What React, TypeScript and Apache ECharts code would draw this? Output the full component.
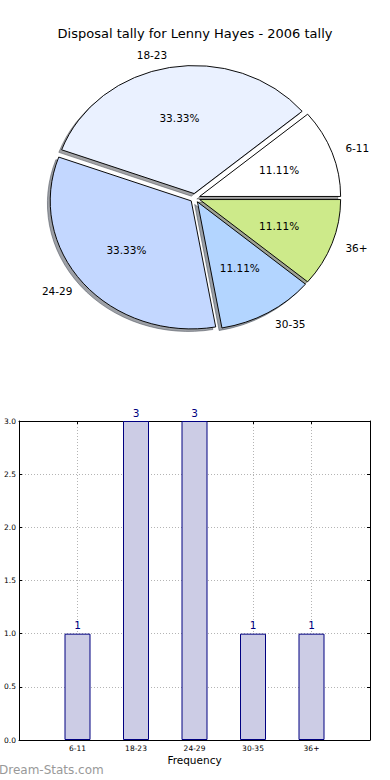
import React, { useEffect, useRef } from 'react';
import * as echarts from 'echarts';

const categories = ['6-11', '18-23', '24-29', '30-35', '36+'];
const tally = [1, 3, 3, 1, 1];
const pieColors = ['#ffffff', '#eaf1ff', '#c3d7ff', '#b3d5ff', '#cdea8a'];

const FONT = 'DejaVu Sans';
const CX = 195;
const CY = 198;
const RX = 141;
const RY = 128;
const EXPLODE = 0.035;

function sliceAngles(i: number) {
  const total = tally.reduce((a, b) => a + b, 0);
  let before = 0;
  for (let k = 0; k < i; k++) before += tally[k];
  const start = (before / total) * 2 * Math.PI;
  const end = ((before + tally[i]) / total) * 2 * Math.PI;
  return { start, end, mid: (start + end) / 2, frac: tally[i] / total };
}

function shadowColor(hex: string) {
  const r = parseInt(hex.slice(1, 3), 16) * 0.3;
  const g = parseInt(hex.slice(3, 5), 16) * 0.3;
  const b = parseInt(hex.slice(5, 7), 16) * 0.3;
  return `rgba(${Math.round(r)},${Math.round(g)},${Math.round(b)},0.5)`;
}

export default function App() {
  const ref = useRef<HTMLDivElement>(null);
  useEffect(() => {
    document.body.style.margin = '0';
    const chart = echarts.init(ref.current!, undefined, { renderer: 'svg' });
    const axisLine = { show: true, onZero: false, lineStyle: { color: '#000', width: 1 } };
    const tick = { show: true, inside: true, length: 3, lineStyle: { color: '#000', width: 1 } };
    const split = { show: true, lineStyle: { type: [1, 2], color: '#b4b4b4', width: 1 } };
    const option: any = {
      animation: false,
      backgroundColor: '#fff',
      title: {
        text: 'Disposal tally for Lenny Hayes - 2006 tally',
        left: 'center',
        top: 22,
        textStyle: { fontFamily: FONT, fontSize: 13, fontWeight: 'normal', color: '#000' },
      },
      grid: { left: 19, right: 20, top: 421, bottom: 40 },
      xAxis: [
        {
          type: 'value', min: 0, max: 6, interval: 1, position: 'bottom',
          axisLine, axisTick: tick,
          axisLabel: {
            formatter: (v: number) => categories[v - 1] ?? '',
            fontSize: 7.5, color: '#000', margin: 4, fontFamily: FONT,
          },
          splitLine: split,
          name: 'Frequency', nameLocation: 'middle', nameGap: 14,
          nameTextStyle: { fontFamily: FONT, fontSize: 10.5, color: '#000' },
        },
        {
          type: 'value', min: 0, max: 6, interval: 1, position: 'top',
          axisLine, axisTick: tick, axisLabel: { show: false }, splitLine: { show: false },
        },
      ],
      yAxis: [
        {
          type: 'value', min: 0, max: 3, interval: 0.5, position: 'left',
          axisLine, axisTick: tick,
          axisLabel: { formatter: (v: number) => v.toFixed(1), fontSize: 7.5, color: '#000', margin: 3, fontFamily: FONT },
          splitLine: split,
        },
        {
          type: 'value', min: 0, max: 3, interval: 0.5, position: 'right',
          axisLine, axisTick: tick, axisLabel: { show: false }, splitLine: { show: false },
        },
      ],
      graphic: [
        {
          type: 'text', left: -1, top: 764,
          style: { text: 'Dream-Stats.com', fill: '#999', font: `12px ${FONT}` },
        },
      ],
      series: [
        {
          type: 'bar', xAxisIndex: 0, yAxisIndex: 0,
          data: categories.map((c, i) => [i + 1, tally[i]]),
          barWidth: 26,
          itemStyle: { color: '#ccccE5', borderColor: '#000080', borderWidth: 1 },
          label: {
            show: true, position: 'top', distance: 3, color: '#000080',
            fontSize: 10.5, fontFamily: FONT, formatter: (p: any) => String(p.value[1]),
          },
        },
        {
          type: 'custom', coordinateSystem: 'none', data: tally, silent: true,
          renderItem: (params: any) => {
            const i = params.dataIndex;
            const { start, end, mid } = sliceAngles(i);
            const ox = CX + EXPLODE * RX * Math.cos(mid) - 0.02 * RX;
            const oy = CY - EXPLODE * RY * Math.sin(mid) + 0.02 * RY;
            const c = shadowColor(pieColors[i]);
            return {
              type: 'sector', x: ox, y: oy, scaleY: RY / RX,
              shape: { cx: 0, cy: 0, r: RX, r0: 0, startAngle: -start, endAngle: -end, clockwise: false },
              style: { fill: c, stroke: c, lineWidth: 1 },
            };
          },
        },
        {
          type: 'custom', coordinateSystem: 'none', data: tally, silent: true,
          renderItem: (params: any) => {
            const i = params.dataIndex;
            const { start, end, mid, frac } = sliceAngles(i);
            const ox = CX + EXPLODE * RX * Math.cos(mid);
            const oy = CY - EXPLODE * RY * Math.sin(mid);
            const right = Math.cos(mid) >= 0;
            return {
              type: 'group',
              children: [
                {
                  type: 'sector', x: ox, y: oy, scaleY: RY / RX,
                  shape: { cx: 0, cy: 0, r: RX, r0: 0, startAngle: -start, endAngle: -end, clockwise: false },
                  style: { fill: pieColors[i], stroke: '#000', lineWidth: 1 },
                },
                {
                  type: 'text',
                  x: ox + 0.6 * RX * Math.cos(mid),
                  y: oy - 0.6 * RY * Math.sin(mid),
                  style: {
                    text: (frac * 100).toFixed(2) + '%', fill: '#000', font: `10.5px ${FONT}`,
                    align: 'center', verticalAlign: 'middle', textAlign: 'center', textVerticalAlign: 'middle',
                  },
                },
                {
                  type: 'text',
                  x: ox + 1.1 * RX * Math.cos(mid),
                  y: oy - 1.1 * RY * Math.sin(mid),
                  style: {
                    text: categories[i], fill: '#000', font: `10.5px ${FONT}`,
                    align: right ? 'left' : 'right', verticalAlign: 'middle',
                    textAlign: right ? 'left' : 'right', textVerticalAlign: 'middle',
                  },
                },
              ],
            };
          },
        },
      ],
    };
    chart.setOption(option);
    return () => chart.dispose();
  }, []);
  return <div ref={ref} style={{ width: 390, height: 780 }} />;
}
